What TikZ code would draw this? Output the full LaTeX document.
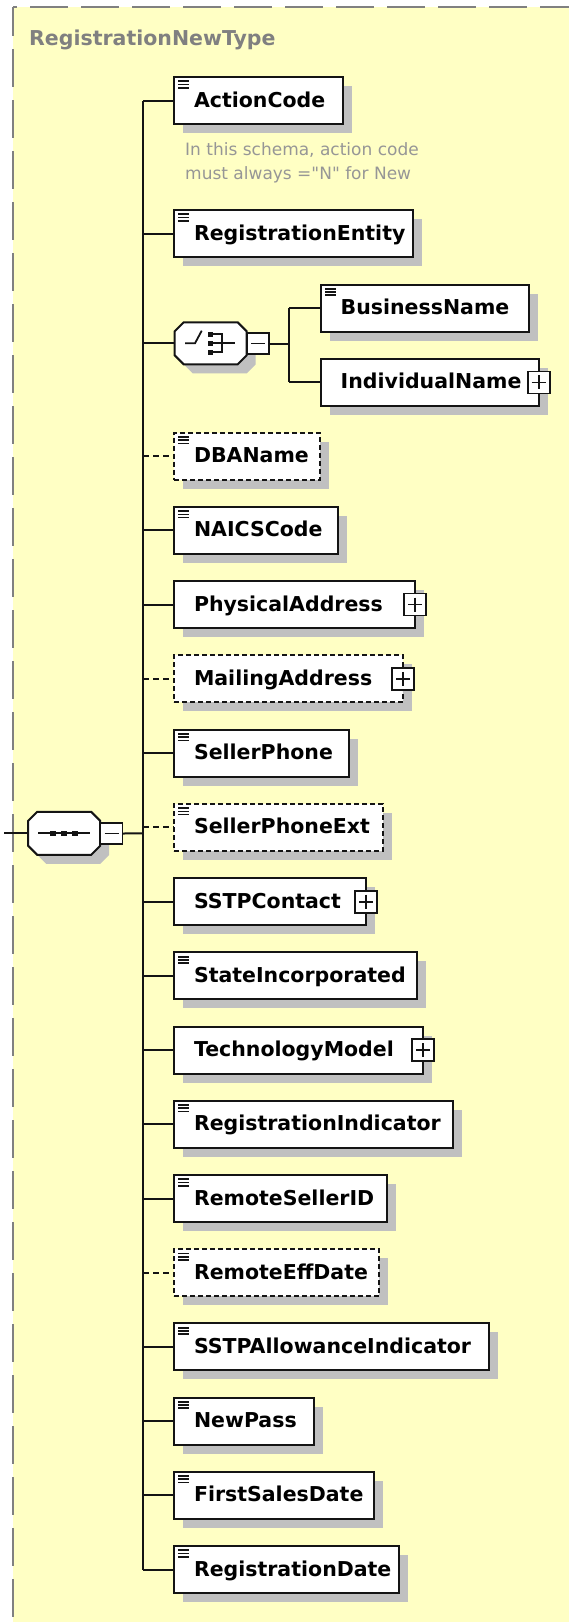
\documentclass[tikz,border=0pt]{standalone}
\usepackage{fontspec}
\setmainfont{DejaVu Sans}
\newfontfamily\notefam{DejaVu Sans}[Ligatures=TeXOff]
\usetikzlibrary{shadows}
\definecolor{bgyellow}{RGB}{255,255,196}
\definecolor{shadowgray}{RGB}{192,192,192}
\definecolor{framegray}{RGB}{128,128,128}
\definecolor{titlegray}{RGB}{128,128,128}
\definecolor{notegray}{RGB}{150,150,150}
\definecolor{linecol}{RGB}{20,20,20}
\newcommand{\elemfont}{\fontsize{20.5pt}{24pt}\selectfont\bfseries}
\newcommand{\notefont}{\notefam\fontsize{17pt}{20pt}\selectfont}
\newcommand{\octpath}[1]{([shift={(9,0)}]#1.north west) -- ([shift={(-9,0)}]#1.north east)
  -- ([shift={(0,9)}]#1.north east) -- ([shift={(0,-9)}]#1.south east)
  -- ([shift={(-9,0)}]#1.south east) -- ([shift={(9,0)}]#1.south west)
  -- ([shift={(0,-9)}]#1.south west) -- ([shift={(0,9)}]#1.north west) -- cycle}
\pgfdeclarelayer{bg}
\pgfsetlayers{bg,main}
\begin{document}
\begin{tikzpicture}[x=1pt,y=-1pt,
  elem/.style={draw=linecol, line width=2pt, fill=white, minimum height=47pt,
    inner xsep=20pt, inner ysep=0pt, outer sep=0pt, anchor=west,
    text height=13pt, text depth=0pt, font=\elemfont, text=black,
    general shadow={fill=shadowgray, shadow xshift=9pt, shadow yshift=-9pt}},
  optional/.style={dash pattern=on 5pt off 3pt},
  conn/.style={draw=linecol, line width=2pt},
  optconn/.style={conn, dash pattern=on 6pt off 4pt},
  iconline/.style={draw=linecol, line width=1.7pt},
  compbox/.style={rectangle, minimum width=72pt, minimum height=42pt, inner sep=0pt, outer sep=0pt},
  octshadow/.style={fill=shadowgray, transform canvas={shift={(9pt,-9pt)}}},
  octdraw/.style={draw=linecol, line width=2pt, fill=white, line join=miter},
  plusbox/.style={draw=linecol, line width=1.6pt, fill=white, minimum width=22pt,
    minimum height=22pt, inner sep=0pt, outer sep=0pt,
    path picture={\draw[linecol, line width=1.6pt]
      ([xshift=4pt]path picture bounding box.west) -- ([xshift=-4pt]path picture bounding box.east)
      ([yshift=-4pt]path picture bounding box.north) -- ([yshift=4pt]path picture bounding box.south);}},
  minusbox/.style={draw=linecol, line width=1.6pt, fill=white, minimum width=22pt,
    minimum height=21pt, inner sep=0pt, outer sep=0pt,
    path picture={\draw[linecol, line width=1.6pt]
      ([xshift=4pt]path picture bounding box.west) -- ([xshift=-4pt]path picture bounding box.east);}},
  symline/.style={draw=linecol, line width=1.8pt}
]
\useasboundingbox (0,0) rectangle (569,1622);

% ---------- elements ----------
\node[elem] (ActionCode) at (174,100.5) {\makebox[129pt][l]{ActionCode}};
\node[elem] (RegistrationEntity) at (174,233.5) {\makebox[199pt][l]{RegistrationEntity}};

% choice compositor
\node[compbox] (choice) at (210.7,343.3) {};
\fill[octshadow] \octpath{choice};
\filldraw[octdraw] \octpath{choice};
\node[minusbox] (choiceMinus) at (258.2,343.5) {};

\node[elem] (BusinessName) at (320.7,308) {\makebox[168pt][l]{BusinessName}};
\node[elem] (IndividualName) at (320.7,382.3) {\makebox[178pt][l]{IndividualName}};
\node[elem, optional] (DBAName) at (174,456.2) {\makebox[106pt][l]{DBAName}};
\node[elem] (NAICSCode) at (174,530.4) {\makebox[124pt][l]{NAICSCode}};
\node[elem] (PhysicalAddress) at (174,604.6) {\makebox[201pt][l]{PhysicalAddress}};
\node[elem, optional] (MailingAddress) at (174,678.8) {\makebox[189pt][l]{MailingAddress}};
\node[elem] (SellerPhone) at (174,753.2) {\makebox[135pt][l]{SellerPhone}};
\node[elem, optional] (SellerPhoneExt) at (174,827.4) {\makebox[169pt][l]{SellerPhoneExt}};
\node[elem] (SSTPContact) at (174,901.7) {\makebox[152pt][l]{SSTPContact}};
\node[elem] (StateIncorporated) at (174,975.9) {\makebox[203pt][l]{StateIncorporated}};
\node[elem] (TechnologyModel) at (174,1050.1) {\makebox[209pt][l]{TechnologyModel}};
\node[elem] (RegistrationIndicator) at (174,1124.3) {\makebox[239pt][l]{RegistrationIndicator}};
\node[elem] (RemoteSellerID) at (174,1198.5) {\makebox[173pt][l]{RemoteSellerID}};
\node[elem, optional] (RemoteEffDate) at (174,1272.7) {\makebox[165pt][l]{RemoteEffDate}};
\node[elem] (SSTPAllowanceIndicator) at (174,1346.9) {\makebox[275pt][l]{SSTPAllowanceIndicator}};
\node[elem] (NewPass) at (174,1421.1) {\makebox[100pt][l]{NewPass}};
\node[elem] (FirstSalesDate) at (174,1495.3) {\makebox[160pt][l]{FirstSalesDate}};
\node[elem] (RegistrationDate) at (174,1569.5) {\makebox[185pt][l]{RegistrationDate}};

% sequence compositor
\node[compbox, minimum height=43pt] (seq) at (64.2,833.3) {};
\fill[octshadow] \octpath{seq};
\filldraw[octdraw] \octpath{seq};
\node[minusbox] (seqMinus) at (111.5,833.5) {};

% expand boxes
\node[plusbox] (IndividualNamePlus) at (IndividualName.east) {};
\node[plusbox] (PhysicalAddressPlus) at (PhysicalAddress.east) {};
\node[plusbox] (MailingAddressPlus) at (MailingAddress.east) {};
\node[plusbox] (SSTPContactPlus) at (SSTPContact.east) {};
\node[plusbox] (TechnologyModelPlus) at (TechnologyModel.east) {};

% simple-type icons
\foreach \n in {ActionCode,RegistrationEntity,BusinessName,DBAName,NAICSCode,SellerPhone,SellerPhoneExt,StateIncorporated,RegistrationIndicator,RemoteSellerID,RemoteEffDate,SSTPAllowanceIndicator,NewPass,FirstSalesDate,RegistrationDate}{
  \draw[iconline] ([shift={(4.3,4.3)}]\n.north west) -- ++(11,0)
                  ([shift={(4.3,7.5)}]\n.north west) -- ++(11,0)
                  ([shift={(4.3,10.7)}]\n.north west) -- ++(11,0);
}

% choice symbol
\draw[symline] ([shift={(-25.7,0)}]choice.center) -- ([shift={(-15.7,0)}]choice.center)
  -- ([shift={(-9,-12.6)}]choice.center);
\foreach \dy in {-9,0,9}{
  \fill[linecol] ([shift={(-3,\dy-2.8)}]choice.center) rectangle ([shift={(2.6,\dy+2.8)}]choice.center);
}
\draw[symline] ([shift={(2.6,-9)}]choice.center) -- ([shift={(11,-9)}]choice.center)
  -- ([shift={(11,9)}]choice.center) -- ([shift={(2.6,9)}]choice.center);
\draw[symline] ([shift={(2.6,0)}]choice.center) -- ([shift={(24.3,0)}]choice.center);

% sequence symbol
\draw[symline] ([shift={(-26,0)}]seq.center) -- ([shift={(26,0)}]seq.center);
\foreach \dx in {-11,0,11}{
  \fill[linecol] ([shift={(\dx-3,-2.6)}]seq.center) rectangle ([shift={(\dx+3,2.6)}]seq.center);
}

% title and annotation
\node[anchor=base west, inner sep=0pt, font=\elemfont, text=titlegray] (title) at (29,45) {RegistrationNewType};
\node[anchor=base west, inner sep=0pt, font=\notefont, text=notegray] (note1) at (185,155.7) {In this schema, action code};
\node[anchor=base west, inner sep=0pt, font=\notefont, text=notegray] (note2) at (185,179) {must always ="N" for New};

% ---------- background layer ----------
\begin{pgfonlayer}{bg}
\fill[white] (0,0) rectangle (569,1622);
\fill[bgyellow] (13,7) rectangle (569,1622);
\draw[framegray, line width=2pt, dash pattern=on 38pt off 13pt, dash phase=34pt] (13,7) -- (569,7);
\draw[framegray, line width=2pt, dash pattern=on 38pt off 13pt, dash phase=9pt] (13,7) -- (13,1622);

\coordinate (seqIn) at (4,833.3);
\coordinate (trunk) at (143,833.4);
\coordinate (cbranch) at (289,343.5);

\draw[conn] (seqIn) -- (seq.west);
\draw[conn] (seqMinus.east) -- (trunk);
\draw[conn] (trunk |- ActionCode.west) -- (trunk |- RegistrationDate.west);
\foreach \n in {ActionCode,RegistrationEntity,choice,NAICSCode,PhysicalAddress,SellerPhone,SSTPContact,StateIncorporated,TechnologyModel,RegistrationIndicator,RemoteSellerID,SSTPAllowanceIndicator,NewPass,FirstSalesDate,RegistrationDate}{
  \draw[conn] (trunk |- \n.west) -- (\n.west);
}
\foreach \n in {DBAName,MailingAddress,SellerPhoneExt,RemoteEffDate}{
  \draw[optconn] (trunk |- \n.west) -- (\n.west);
}
\draw[conn] (choiceMinus.east) -- (cbranch);
\draw[conn] (cbranch |- BusinessName.west) -- (cbranch |- IndividualName.west);
\draw[conn] (cbranch |- BusinessName.west) -- (BusinessName.west);
\draw[conn] (cbranch |- IndividualName.west) -- (IndividualName.west);
\end{pgfonlayer}
\end{tikzpicture}
\end{document}
